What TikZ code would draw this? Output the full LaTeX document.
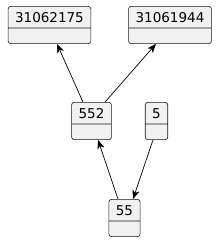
\documentclass[tikz,border=0pt]{standalone}
\usepackage{fontspec}
\setmainfont{DejaVu Sans}
\usetikzlibrary{shapes.multipart,arrows.meta}
\definecolor{objfill}{HTML}{F1F1F1}
\definecolor{objline}{HTML}{181818}
\begin{document}
\begin{tikzpicture}[x=1pt,y=-1pt,
  obj/.style={rectangle split, rectangle split parts=2, draw=objline, fill=objfill,
    line width=0.6pt, rounded corners=2.5pt, inner xsep=7pt, inner ysep=4pt,
    text height=11.5pt, text depth=1.5pt,
    rectangle split empty part height=7pt, rectangle split empty part depth=0pt,
    font=\fontsize{13.5}{16}\selectfont},
  link/.style={-{Stealth[length=9pt,width=7pt,inset=2.5pt]}, line width=0.7pt}]
  \useasboundingbox (0,0) rectangle (217,240);
  \node[obj] (n31062175) at (49.5,25) {31062175\nodepart{two}};
  \node[obj] (n31061944) at (170,25) {31061944\nodepart{two}};
  \node[obj] (n552) at (91.5,121) {552\nodepart{two}};
  \node[obj] (n5) at (156.5,121) {5\nodepart{two}};
  \node[obj] (n55) at (124.5,218) {55\nodepart{two}};
  \draw[link] ([xshift=-8.5pt]n552.north) -- ([xshift=7.5pt]n31062175.south);
  \draw[link] ([xshift=13.5pt]n552.north) -- ([xshift=-14pt]n31061944.south);
  \draw[link] ([xshift=-6.5pt]n55.north) -- ([xshift=6.5pt]n552.south);
  \draw[link] ([xshift=-3.5pt]n5.south) -- ([xshift=8.5pt]n55.north);
\end{tikzpicture}
\end{document}
